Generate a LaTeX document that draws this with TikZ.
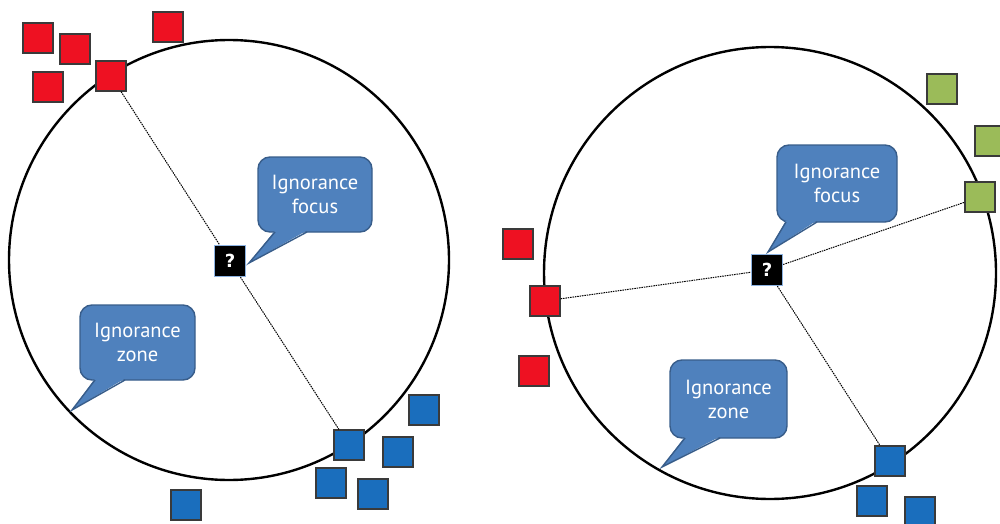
\documentclass[tikz,border=0pt]{standalone}
\usepackage{fontspec}
\newfontfamily\calloutfont{PT Sans}
\newfontfamily\qfont{DejaVu Sans}
\definecolor{sqred}{HTML}{EE1122}
\definecolor{sqblue}{HTML}{1A6EBD}
\definecolor{sqgreen}{HTML}{9BBB59}
\definecolor{sqborder}{HTML}{3A3A3A}
\definecolor{cofill}{HTML}{4F81BD}
\definecolor{coborder}{HTML}{385D8A}
\definecolor{qborder}{HTML}{8DB3E2}
\begin{document}
\begin{tikzpicture}[x=1pt,y=-1pt,
  sq/.style={draw=sqborder, line width=1.2pt, minimum size=30pt, inner sep=0pt},
  redsq/.style={sq, fill=sqred},
  bluesq/.style={sq, fill=sqblue},
  greensq/.style={sq, fill=sqgreen},
  ring/.style={draw=black, line width=2.4pt},
  conn/.style={draw=black, line width=1pt, dash pattern=on 1.5pt off 0.9pt},
  qbox/.style={fill=black, draw=qborder, line width=1.3pt, minimum size=31pt, inner sep=0pt, text=white, font=\qfont\bfseries\fontsize{18}{18}\selectfont},
  cobox/.style={fill=cofill, draw=coborder, line width=1.4pt, rounded corners=12pt, inner sep=0pt, text=white, align=center, font=\calloutfont\fontsize{20.5}{24}\selectfont},
  cotip/.style={fill=cofill},
  coedge/.style={draw=coborder, line width=1.4pt, line join=miter}
]
\useasboundingbox (0,0) rectangle (1000,524);

% circles
\draw[ring] (229,260) circle[radius=220];
\draw[ring] (770,273) circle[radius=226];

% ---------- left group ----------
\node[redsq] (r1) at (38,38) {};
\node[redsq] (r2) at (75,49) {};
\node[redsq] (r3) at (48,87) {};
\node[redsq] (r4) at (111,76) {};
\node[redsq] (r5) at (168,27) {};

\node[bluesq] (b1) at (349,445) {};
\node[bluesq] (b2) at (424,410) {};
\node[bluesq] (b3) at (398,452) {};
\node[bluesq] (b4) at (331,483) {};
\node[bluesq] (b5) at (373,494) {};
\node[bluesq] (b6) at (186,505) {};

\node[qbox] (q1) at (230,261) {?};
\draw[conn] (r4) -- (q1);
\draw[conn] (q1) -- (b1);

% left focus callout
\node[cobox, minimum width=114pt, minimum height=75pt] (lf) at (315,194.5) {Ignorance\\focus};
\coordinate (lft) at (249,263);
\fill[cotip] (275,230.5) -- (307,230.5) -- (lft) -- cycle;
\draw[coedge] (275,232) -- (lft) -- (307,232);

% left zone callout
\node[cobox, minimum width=115pt, minimum height=75pt] (lz) at (137.5,342.5) {Ignorance\\zone};
\coordinate (lzt) at (72,410);
\fill[cotip] (95,378.5) -- (125,378.5) -- (lzt) -- cycle;
\draw[coedge] (95,380) -- (lzt) -- (125,380);

% ---------- right group ----------
\node[redsq] (rr1) at (518,244) {};
\node[redsq] (rr2) at (545,301) {};
\node[redsq] (rr3) at (534,371) {};

\node[greensq] (g1) at (942,89) {};
\node[greensq] (g2) at (990,141) {};
\node[greensq] (g3) at (980,197) {};

\node[bluesq] (rb1) at (890,461) {};
\node[bluesq] (rb2) at (872,501) {};
\node[bluesq] (rb3) at (920,512) {};

\node[qbox] (q2) at (767,270) {?};
\draw[conn] (rr2) -- (q2);
\draw[conn] (q2) -- (g3);
\draw[conn] (q2) -- (rb1);

% right focus callout
\node[cobox, minimum width=120pt, minimum height=77pt] (rf) at (837,183.5) {Ignorance\\focus};
\coordinate (rft) at (768,252);
\fill[cotip] (786,220.5) -- (817,220.5) -- (rft) -- cycle;
\draw[coedge] (786,222) -- (rft) -- (817,222);

% right zone callout
\node[cobox, minimum width=117pt, minimum height=78pt] (rz) at (728.5,399) {Ignorance\\zone};
\coordinate (rzt) at (662,467);
\fill[cotip] (685,436.5) -- (720,436.5) -- (rzt) -- cycle;
\draw[coedge] (685,438) -- (rzt) -- (720,438);
\end{tikzpicture}
\end{document}
